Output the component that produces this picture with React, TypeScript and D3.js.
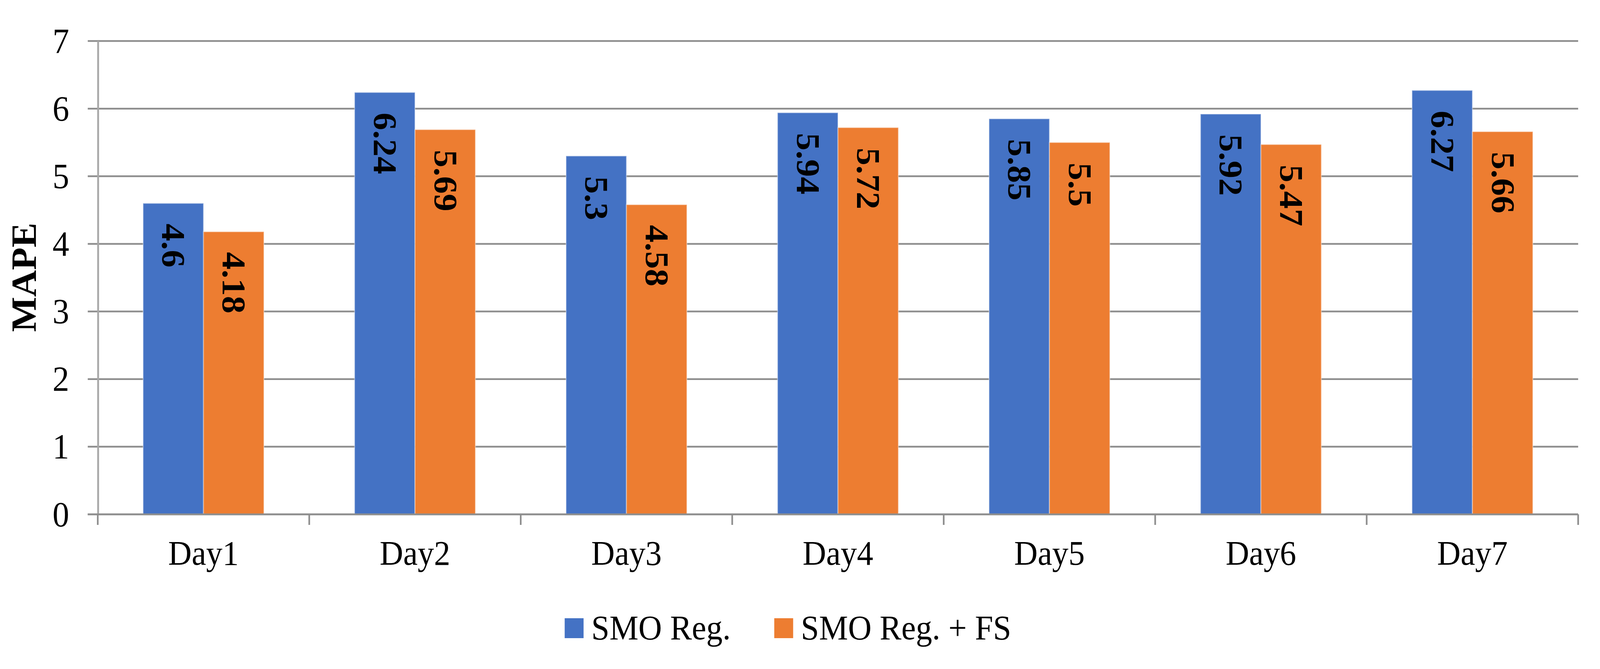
import React from 'react';
import * as d3 from 'd3';

// MAPE per forecast day, two models
const days = ['Day1', 'Day2', 'Day3', 'Day4', 'Day5', 'Day6', 'Day7'];
const smoReg = [4.6, 6.24, 5.3, 5.94, 5.85, 5.92, 6.27];
const smoRegFs = [4.18, 5.69, 4.58, 5.72, 5.5, 5.47, 5.66];
const seriesNames = ['SMO Reg.', 'SMO Reg. + FS'];
const seriesColors = ['#4472C4', '#ED7D31'];
const yTicks = [0, 1, 2, 3, 4, 5, 6, 7];

const W = 4321;
const H = 1713;
const FONT = '"Liberation Serif", "Times New Roman", serif';

export default function App() {
  const x = d3.scaleBand<string>().domain(days).range([264, 4262]).paddingInner(0).paddingOuter(0);
  const inner = d3.scaleBand<string>().domain(seriesNames).range([0, x.bandwidth()]).paddingInner(0).paddingOuter(0.75);
  const y = d3.scaleLinear().domain([0, 7]).range([1317, 105]);

  const series = [smoReg, smoRegFs];
  const boundaries = days.map((d) => x(d) as number).concat([x.range()[1]]);

  // legend layout
  const legendX = [1525, 2091];

  return (
    <div style={{ position: 'fixed', left: 0, top: 0, width: '100vw', height: '100vh', overflow: 'hidden', background: '#fff' }}>
      <svg
        viewBox={`0 0 ${W} ${H}`}
        preserveAspectRatio="none"
        style={{ display: 'block', width: '100%', height: '100%' }}
      >
        {/* gridlines */}
        {yTicks.map((t) => (
          <line key={t} x1={237} x2={4262} y1={y(t)} y2={y(t)} stroke="#8e8e8e" strokeWidth={4.5} />
        ))}

        {/* bars */}
        {series.map((vals, si) =>
          vals.map((v, i) => {
            const bx = (x(days[i]) as number) + (inner(seriesNames[si]) as number);
            return (
              <rect
                key={`${si}-${i}`}
                x={bx}
                y={y(v)}
                width={inner.bandwidth()}
                height={y(0) - y(v)}
                fill={seriesColors[si]}
                stroke="#ffffff"
                strokeOpacity={0.35}
                strokeWidth={3}
              />
            );
          })
        )}

        {/* y axis line */}
        <line x1={265} x2={265} y1={y(7)} y2={y(0)} stroke="#a8a8a8" strokeWidth={5} />
        {/* x axis baseline */}
        <line x1={237} x2={4262} y1={y(0)} y2={y(0)} stroke="#8e8e8e" strokeWidth={4.5} />
        {boundaries.map((bx, i) => (
          <line key={i} x1={bx} x2={bx} y1={y(0)} y2={y(0) + 27} stroke="#8e8e8e" strokeWidth={4.5} />
        ))}

        {/* data labels, rotated inside bar ends */}
        {series.map((vals, si) =>
          vals.map((v, i) => {
            const cx = (x(days[i]) as number) + (inner(seriesNames[si]) as number) + inner.bandwidth() / 2;
            const ty = y(v) + 52;
            return (
              <text
                key={`l${si}-${i}`}
                transform={`translate(${cx},${ty}) rotate(90)`}
                dy="0.33em"
                textAnchor="start"
                fontFamily={FONT}
                fontSize={90}
                fontWeight="bold"
                fill="#000"
              >
                {String(v)}
              </text>
            );
          })
        )}

        {/* y tick labels */}
        {yTicks.map((t) => (
          <text key={t} x={187} y={y(t)} dy="0.34em" textAnchor="end" fontFamily={FONT} fontSize={90} fill="#000">
            {t}
          </text>
        ))}

        {/* y axis title */}
        <text
          transform={`translate(97,710) rotate(-90)`}
          textAnchor="middle"
          fontFamily={FONT}
          fontSize={95}
          fontWeight="bold"
          fill="#000"
        >
          MAPE
        </text>

        {/* category labels */}
        {days.map((d) => (
          <text
            key={d}
            x={(x(d) as number) + x.bandwidth() / 2}
            y={1446}
            textAnchor="middle"
            fontFamily={FONT}
            fontSize={88}
            fill="#000"
          >
            {d}
          </text>
        ))}

        {/* legend */}
        {seriesNames.map((name, i) => (
          <g key={name}>
            <rect x={legendX[i]} y={1583} width={51} height={51} fill={seriesColors[i]} />
            <text x={legendX[i] + 72} y={1637} fontFamily={FONT} fontSize={88} fill="#000">
              {name}
            </text>
          </g>
        ))}
      </svg>
    </div>
  );
}
